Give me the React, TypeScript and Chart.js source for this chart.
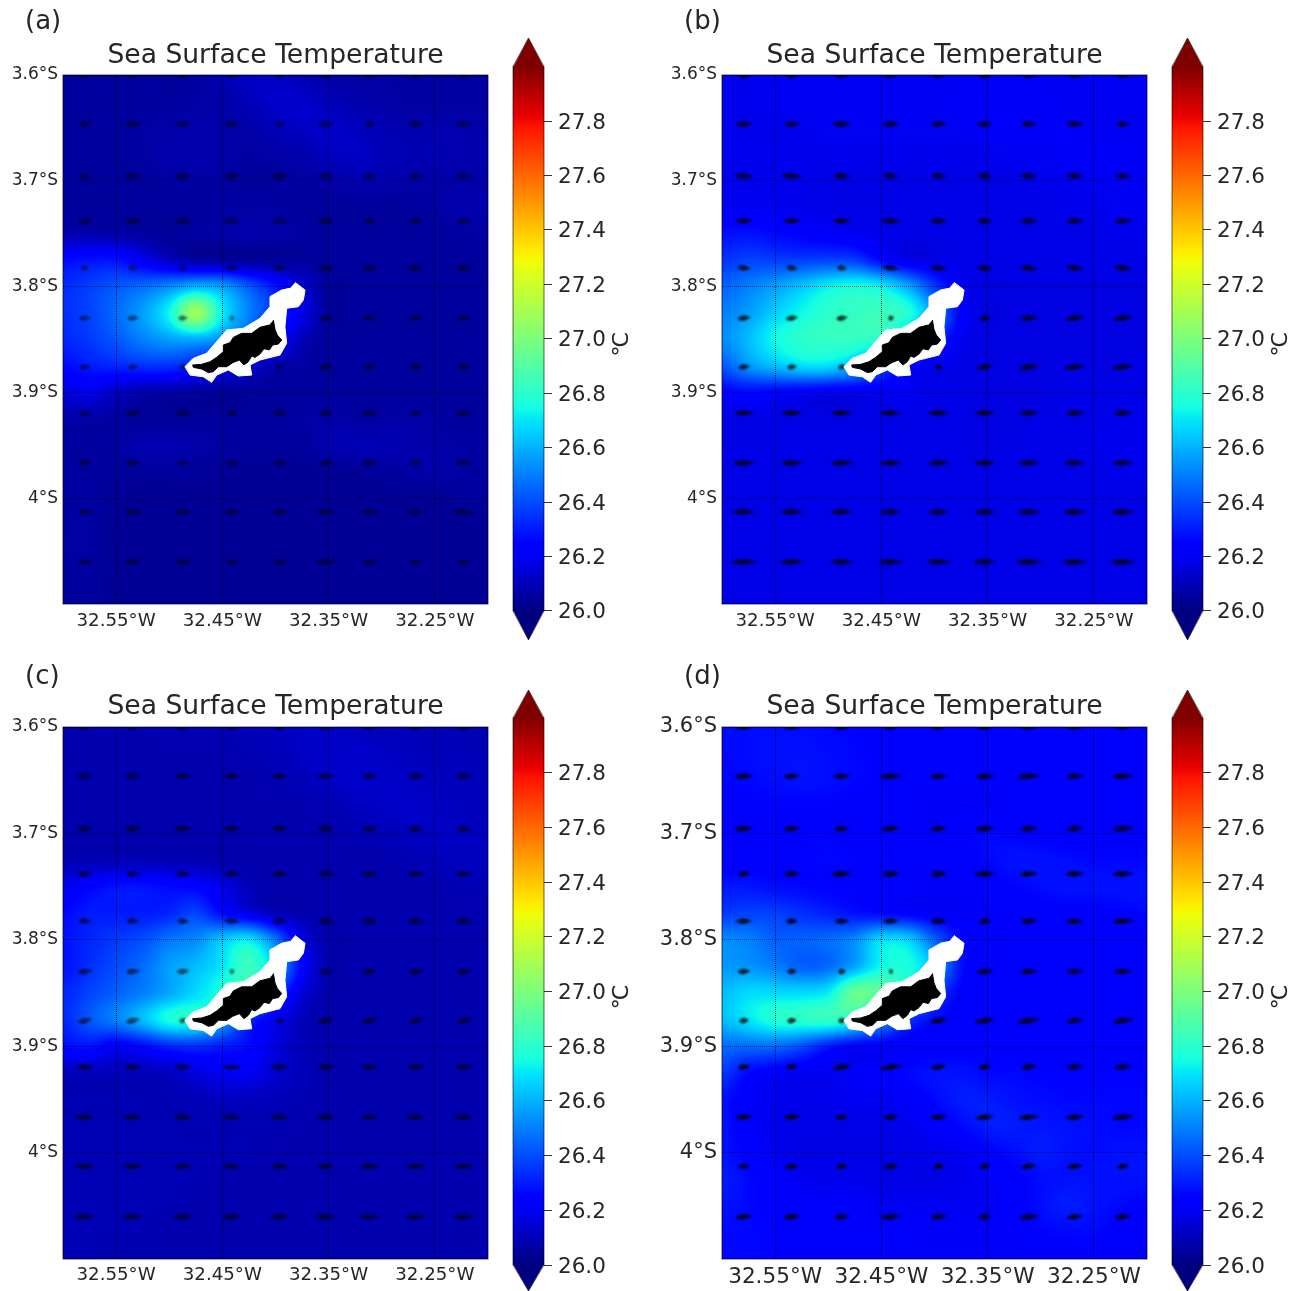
import React, { useEffect, useRef } from "react";
import { Chart, registerables } from "chart.js";

Chart.register(...registerables);

const FONT = "'DejaVu Sans'";
const INK = "#262626";

const LON_TICKS = [-32.55, -32.45, -32.35, -32.25];
const LAT_TICKS = [-3.6, -3.7, -3.8, -3.9, -4.0];
const CBAR_TICKS = [26.0, 26.2, 26.4, 26.6, 26.8, 27.0, 27.2, 27.4, 27.6, 27.8];
const PANEL_TITLES = ["(a)", "(b)", "(c)", "(d)"];

// SST grid nodes
const LON_NODES = [-32.6, -32.575, -32.55, -32.525, -32.5, -32.475, -32.45, -32.425, -32.4, -32.375, -32.35, -32.325, -32.3, -32.275, -32.25, -32.225, -32.2];
const LAT_NODES = [-3.6, -3.625, -3.65, -3.675, -3.7, -3.725, -3.75, -3.775, -3.8, -3.825, -3.85, -3.875, -3.9, -3.925, -3.95, -3.975, -4.0, -4.025, -4.05, -4.075, -4.1];

// hundredths of a degree above 26 C
const sstA = [
  [5, 5, 5, 5, 5, 6, 9, 12, 12, 9, 7, 6, 6, 6, 6, 6, 6],
  [5, 5, 5, 5, 5, 6, 7, 10, 13, 13, 10, 8, 7, 6, 6, 6, 6],
  [5, 5, 5, 6, 7, 8, 7, 7, 10, 12, 13, 11, 9, 8, 8, 8, 7],
  [5, 5, 5, 6, 8, 8, 7, 6, 7, 8, 11, 12, 10, 9, 9, 8, 8],
  [5, 5, 5, 5, 6, 6, 6, 5, 5, 6, 7, 8, 8, 7, 7, 7, 7],
  [5, 5, 5, 5, 5, 5, 6, 6, 6, 5, 5, 5, 5, 5, 6, 8, 8],
  [8, 8, 7, 6, 5, 6, 7, 8, 7, 6, 5, 5, 5, 5, 5, 6, 6],
  [26, 28, 28, 20, 12, 7, 6, 5, 5, 5, 5, 5, 5, 5, 5, 5, 5],
  [33, 37, 42, 46, 52, 60, 56, 42, 28, 14, 5, 5, 5, 5, 5, 5, 5],
  [34, 38, 46, 56, 74, 108, 72, 50, 35, 18, 5, 5, 5, 5, 5, 5, 5],
  [32, 36, 42, 50, 56, 58, 52, 40, 26, 10, 5, 5, 5, 5, 5, 5, 5],
  [26, 30, 32, 34, 34, 30, 22, 14, 8, 6, 5, 5, 5, 5, 5, 5, 5],
  [16, 18, 12, 8, 7, 6, 5, 5, 5, 5, 5, 5, 5, 5, 5, 5, 5],
  [7, 7, 6, 5, 5, 5, 5, 5, 5, 6, 7, 6, 6, 7, 6, 5, 5],
  [6, 5, 6, 8, 8, 7, 6, 5, 5, 5, 8, 9, 9, 8, 7, 6, 6],
  [6, 5, 5, 5, 5, 5, 4, 4, 4, 4, 4, 4, 5, 6, 7, 6, 5],
  [6, 6, 4, 4, 4, 4, 4, 4, 4, 4, 4, 4, 4, 4, 4, 5, 5],
  [6, 6, 4, 4, 4, 4, 4, 4, 4, 4, 4, 4, 4, 4, 4, 4, 4],
  [6, 6, 4, 4, 4, 4, 4, 4, 4, 4, 4, 4, 4, 4, 4, 4, 4],
  [5, 5, 4, 4, 4, 4, 4, 4, 4, 4, 4, 4, 4, 4, 4, 4, 4],
  [5, 5, 4, 4, 4, 4, 4, 4, 4, 4, 4, 4, 4, 4, 4, 4, 4],
];
const sstB = [
  [19, 19, 19, 20, 20, 20, 20, 20, 20, 20, 20, 20, 20, 20, 20, 20, 20],
  [19, 19, 20, 20, 20, 20, 20, 20, 20, 21, 21, 21, 21, 20, 20, 20, 20],
  [19, 19, 19, 19, 20, 20, 20, 20, 20, 20, 21, 21, 21, 21, 20, 20, 20],
  [19, 19, 19, 19, 19, 19, 19, 19, 19, 19, 19, 20, 20, 21, 21, 21, 20],
  [19, 19, 19, 19, 18, 18, 18, 18, 18, 18, 18, 18, 19, 19, 20, 20, 20],
  [20, 20, 20, 19, 18, 18, 18, 18, 18, 18, 18, 18, 18, 19, 19, 20, 20],
  [27, 28, 26, 24, 22, 20, 19, 18, 18, 18, 18, 18, 18, 18, 18, 19, 19],
  [35, 38, 37, 37, 38, 37, 26, 19, 18, 18, 18, 18, 18, 18, 18, 18, 18],
  [44, 50, 56, 64, 72, 76, 72, 58, 36, 20, 17, 17, 17, 17, 17, 17, 17],
  [50, 56, 66, 74, 80, 82, 84, 78, 54, 24, 17, 17, 17, 17, 17, 17, 17],
  [52, 62, 74, 80, 82, 82, 78, 58, 36, 20, 17, 17, 17, 17, 17, 17, 17],
  [42, 54, 62, 68, 68, 60, 42, 24, 19, 18, 17, 17, 17, 17, 17, 17, 18],
  [24, 26, 24, 22, 20, 20, 20, 20, 18, 18, 17, 17, 17, 18, 18, 18, 18],
  [18, 18, 18, 18, 18, 18, 18, 18, 18, 18, 17, 17, 18, 18, 18, 19, 19],
  [18, 18, 18, 18, 18, 18, 18, 18, 18, 18, 17, 18, 18, 18, 19, 19, 19],
  [18, 18, 18, 18, 18, 18, 18, 18, 18, 18, 18, 18, 18, 18, 18, 19, 19],
  [18, 18, 18, 18, 18, 18, 18, 18, 18, 18, 18, 18, 18, 18, 18, 18, 18],
  [18, 18, 18, 18, 18, 18, 18, 18, 18, 18, 18, 18, 18, 18, 18, 18, 18],
  [18, 18, 18, 18, 18, 18, 18, 18, 18, 18, 18, 18, 18, 18, 18, 18, 18],
  [18, 18, 18, 18, 18, 18, 18, 18, 18, 18, 18, 18, 18, 18, 18, 18, 18],
  [18, 18, 18, 18, 18, 18, 18, 18, 18, 18, 18, 18, 18, 18, 18, 18, 18],
];
const sstC = [
  [8, 8, 8, 8, 9, 9, 9, 10, 11, 12, 12, 11, 10, 10, 9, 9, 9],
  [8, 8, 8, 8, 8, 8, 8, 9, 10, 12, 13, 13, 12, 11, 10, 10, 9],
  [8, 8, 8, 8, 8, 8, 8, 8, 9, 10, 12, 13, 13, 12, 11, 10, 10],
  [8, 8, 8, 8, 8, 8, 8, 8, 8, 8, 9, 11, 12, 13, 12, 11, 10],
  [8, 8, 8, 8, 8, 8, 8, 8, 8, 8, 8, 9, 10, 11, 12, 12, 11],
  [9, 9, 9, 9, 9, 9, 8, 8, 8, 8, 8, 8, 8, 9, 10, 11, 11],
  [18, 24, 28, 28, 26, 24, 18, 10, 8, 8, 8, 8, 8, 8, 8, 9, 9],
  [26, 30, 30, 30, 32, 38, 26, 18, 10, 8, 8, 8, 8, 8, 8, 8, 8],
  [28, 32, 36, 40, 48, 52, 64, 70, 48, 18, 8, 8, 8, 8, 8, 8, 8],
  [28, 34, 40, 46, 56, 62, 70, 84, 62, 24, 8, 8, 8, 8, 8, 8, 8],
  [32, 38, 44, 50, 58, 68, 76, 74, 40, 16, 8, 8, 8, 8, 8, 8, 8],
  [32, 42, 50, 62, 76, 76, 60, 34, 20, 10, 8, 8, 8, 8, 8, 8, 8],
  [26, 28, 22, 26, 32, 34, 30, 26, 16, 10, 8, 8, 8, 8, 8, 8, 8],
  [10, 10, 10, 10, 12, 16, 20, 20, 14, 10, 8, 8, 8, 8, 8, 8, 8],
  [9, 9, 9, 9, 9, 10, 11, 11, 10, 9, 8, 8, 8, 8, 8, 8, 8],
  [9, 9, 9, 9, 9, 9, 9, 9, 9, 8, 8, 8, 8, 8, 8, 8, 8],
  [9, 9, 9, 9, 9, 9, 9, 9, 8, 8, 8, 8, 8, 8, 8, 8, 8],
  [9, 9, 9, 9, 9, 9, 8, 8, 8, 8, 8, 8, 8, 8, 8, 8, 8],
  [9, 9, 9, 9, 9, 8, 8, 8, 8, 8, 8, 8, 8, 8, 8, 8, 8],
  [9, 9, 9, 9, 8, 8, 8, 8, 8, 8, 8, 8, 8, 8, 8, 8, 8],
  [9, 9, 8, 8, 8, 8, 8, 8, 8, 8, 8, 8, 8, 8, 8, 8, 8],
];
const sstD = [
  [26, 27, 27, 27, 26, 25, 24, 23, 22, 22, 22, 22, 22, 22, 22, 22, 22],
  [26, 27, 28, 28, 27, 26, 24, 23, 22, 22, 22, 23, 23, 23, 23, 23, 23],
  [25, 26, 27, 28, 27, 26, 24, 22, 22, 22, 22, 22, 23, 23, 23, 23, 24],
  [23, 24, 25, 25, 25, 24, 23, 22, 21, 21, 21, 22, 22, 22, 22, 23, 24],
  [22, 23, 24, 25, 25, 24, 23, 22, 22, 24, 26, 25, 24, 23, 23, 24, 24],
  [22, 23, 24, 25, 26, 25, 24, 22, 22, 23, 26, 28, 28, 27, 26, 26, 26],
  [29, 29, 27, 26, 25, 25, 24, 22, 21, 21, 23, 25, 27, 28, 28, 28, 28],
  [36, 38, 37, 34, 31, 28, 26, 24, 22, 21, 21, 22, 23, 24, 24, 25, 26],
  [52, 50, 44, 44, 46, 52, 68, 66, 44, 26, 22, 22, 23, 23, 24, 24, 24],
  [55, 54, 50, 44, 46, 58, 74, 76, 60, 28, 22, 22, 22, 22, 23, 23, 23],
  [62, 68, 68, 68, 72, 95, 90, 70, 40, 24, 22, 22, 22, 22, 22, 22, 22],
  [62, 70, 78, 80, 82, 76, 56, 36, 26, 23, 22, 22, 22, 22, 22, 22, 22],
  [46, 46, 46, 40, 30, 24, 23, 22, 23, 24, 24, 24, 24, 24, 24, 24, 24],
  [36, 26, 22, 20, 20, 21, 23, 26, 28, 28, 26, 26, 25, 25, 25, 25, 25],
  [28, 22, 20, 19, 19, 20, 20, 22, 26, 30, 30, 28, 27, 26, 26, 26, 26],
  [28, 22, 19, 18, 18, 18, 18, 19, 22, 26, 30, 30, 29, 28, 27, 26, 26],
  [28, 24, 20, 18, 18, 18, 18, 18, 19, 20, 24, 27, 30, 28, 27, 28, 28],
  [30, 26, 22, 20, 19, 19, 18, 18, 18, 19, 21, 24, 27, 28, 28, 28, 28],
  [28, 26, 23, 22, 22, 22, 20, 20, 20, 20, 20, 23, 27, 30, 28, 26, 25],
  [26, 26, 25, 24, 23, 22, 22, 22, 21, 21, 21, 22, 25, 26, 26, 24, 24],
  [26, 26, 25, 24, 22, 22, 22, 21, 21, 21, 21, 21, 22, 23, 24, 24, 24],
];

// Island and its white land mask
const MASK_LON = [-32.3816, -32.3722, -32.3738, -32.3785, -32.3895, -32.3911, -32.3895, -32.3958, -32.4146, -32.424, -32.4224, -32.435, -32.4444, -32.4553, -32.4601, -32.468, -32.4805, -32.4852, -32.4774, -32.4648, -32.4459, -32.4303, -32.4146, -32.4052, -32.4052, -32.3942, -32.3864];
const MASK_LAT = [-3.796, -3.8032, -3.8127, -3.819, -3.8205, -3.8379, -3.8536, -3.8647, -3.8694, -3.8741, -3.8836, -3.8845, -3.8788, -3.8836, -3.8905, -3.8852, -3.8836, -3.8757, -3.8678, -3.863, -3.841, -3.8394, -3.83, -3.819, -3.8095, -3.8032, -3.8016];
const ISLE_LON = [-32.402, -32.4005, -32.3983, -32.3942, -32.3973, -32.4027, -32.4058, -32.4108, -32.4146, -32.4193, -32.4224, -32.4256, -32.4297, -32.434, -32.4403, -32.4459, -32.4538, -32.4585, -32.4632, -32.4695, -32.4773, -32.478, -32.4695, -32.4616, -32.4553, -32.4491, -32.4491, -32.4428, -32.4397, -32.4319, -32.4224, -32.4146, -32.4058];
const ISLE_LAT = [-3.8316, -3.8404, -3.8458, -3.8505, -3.8543, -3.8552, -3.8599, -3.8587, -3.8637, -3.8669, -3.8656, -3.871, -3.8741, -3.8694, -3.8719, -3.8757, -3.8757, -3.8804, -3.8813, -3.8779, -3.8763, -3.8741, -3.8735, -3.871, -3.8668, -3.8615, -3.8552, -3.853, -3.848, -3.8442, -3.8442, -3.8385, -3.8363];

// Quiver positions
const Q_LON = [-32.5793, -32.5342, -32.4871, -32.4409, -32.3958, -32.3525, -32.3111, -32.2678, -32.2226];
const Q_LAT = [-3.6, -3.6463, -3.6955, -3.738, -3.7825, -3.8298, -3.876, -3.9195, -3.9667, -4.013, -4.0603];

// Quiver lengths (per point) and headings (per row, degrees)
const qLenA = [
  [12, 12, 12, 14, 12, 12, 12, 12, 12],
  [12, 17, 17, 15, 10, 17, 12, 17, 18],
  [12, 17, 18, 17, 18, 17, 15, 15, 17],
  [15, 17, 18, 18, 17, 17, 13, 15, 17],
  [8, 10, 8, 15, 15, 17, 17, 17, 17],
  [12, 12, 10, 5, 8, 15, 15, 15, 15],
  [12, 10, 8, 8, 8, 15, 15, 15, 15],
  [12, 17, 18, 12, 15, 17, 18, 13, 18],
  [13, 17, 12, 12, 13, 13, 17, 12, 17],
  [15, 17, 18, 17, 17, 20, 18, 15, 23],
  [15, 17, 17, 13, 15, 23, 15, 13, 12],
];
const qLenB = [
  [14, 14, 14, 14, 14, 14, 14, 14, 14],
  [18, 16, 20, 18, 16, 16, 16, 18, 14],
  [20, 22, 18, 16, 16, 16, 18, 18, 16],
  [18, 18, 18, 20, 18, 16, 18, 18, 18],
  [14, 12, 10, 18, 18, 16, 18, 18, 18],
  [14, 13, 12, 6, 8, 12, 18, 20, 20],
  [12, 10, 8, 8, 8, 18, 22, 22, 22],
  [20, 22, 22, 22, 22, 20, 20, 20, 20],
  [24, 24, 24, 24, 22, 22, 22, 22, 22],
  [24, 24, 24, 22, 22, 22, 24, 24, 24],
  [28, 26, 24, 26, 26, 24, 28, 26, 26],
];
const qLenC = [
  [14, 14, 14, 14, 14, 14, 14, 16, 16],
  [16, 15, 17, 17, 17, 18, 17, 18, 17],
  [16, 18, 18, 18, 17, 17, 17, 18, 17],
  [16, 16, 17, 18, 17, 17, 17, 17, 17],
  [14, 14, 12, 16, 16, 17, 17, 17, 17],
  [16, 15, 13, 5, 8, 14, 16, 17, 17],
  [16, 15, 8, 8, 8, 18, 18, 18, 18],
  [18, 18, 18, 20, 20, 18, 18, 18, 18],
  [20, 20, 20, 20, 20, 20, 18, 20, 20],
  [20, 20, 18, 18, 18, 18, 20, 20, 20],
  [22, 22, 22, 22, 22, 22, 22, 22, 22],
];
const qLenD = [
  [18, 18, 16, 16, 16, 18, 20, 18, 16],
  [20, 17, 17, 23, 18, 20, 25, 18, 23],
  [20, 17, 15, 20, 17, 20, 18, 17, 23],
  [13, 17, 22, 20, 18, 23, 20, 20, 22],
  [17, 13, 15, 17, 18, 13, 18, 18, 23],
  [13, 10, 8, 4, 8, 17, 18, 17, 18],
  [10, 10, 8, 8, 20, 22, 25, 18, 23],
  [13, 12, 20, 23, 17, 13, 17, 17, 18],
  [17, 17, 13, 15, 17, 20, 22, 20, 23],
  [12, 15, 12, 15, 12, 12, 17, 17, 13],
  [18, 18, 17, 22, 17, 13, 20, 17, 17],
];
const qAngA = [0, 0, 0, 0, 5, -3, -2, 0, 0, 0, 0];
const qAngB = [0, 0, 4, 0, 8, -8, -8, 0, 0, 0, 0];
const qAngC = [0, 0, 0, 0, 4, -6, -12, 0, 0, 0, 0];
const qAngD = [0, -3, -3, -3, 0, -3, -8, -8, -5, -8, -5];

const JET_R: number[][] = [[0, 0], [0.35, 0], [0.66, 1], [0.89, 1], [1, 0.5]];
const JET_G: number[][] = [[0, 0], [0.125, 0], [0.375, 1], [0.64, 1], [0.91, 0], [1, 0]];
const JET_B: number[][] = [[0, 0.5], [0.11, 1], [0.34, 1], [0.65, 0], [1, 0]];
const JET_BREAKS = [0, 0.11, 0.125, 0.34, 0.35, 0.375, 0.64, 0.65, 0.66, 0.89, 0.91, 1];

function seg(table: number[][], f: number) {
  for (let i = 1; i < table.length; i++) {
    if (f <= table[i][0]) {
      const [a, av] = table[i - 1];
      const [b, bv] = table[i];
      return av + ((f - a) / (b - a)) * (bv - av);
    }
  }
  return table[table.length - 1][1];
}
function jet(f: number): [number, number, number] {
  const t = Math.min(1, Math.max(0, f));
  return [seg(JET_R, t) * 255, seg(JET_G, t) * 255, seg(JET_B, t) * 255];
}
const css = (c: number[]) => `rgb(${Math.round(c[0])},${Math.round(c[1])},${Math.round(c[2])})`;

function cr(p0: number, p1: number, p2: number, p3: number, t: number) {
  return 0.5 * (2 * p1 + (p2 - p0) * t + (2 * p0 - 5 * p1 + 4 * p2 - p3) * t * t + (3 * p1 - p0 - 3 * p2 + p3) * t * t * t);
}

const fieldPlugin = {
  id: "sstField",
  beforeDraw(chart: any) {
    const ds = chart.data.datasets.find((d: any) => d.label === "SST");
    if (!ds) return;
    const { left, top, right, bottom } = chart.chartArea;
    const xs = chart.scales.x, ys = chart.scales.y;
    const x0 = Math.floor(left), y0 = Math.floor(top);
    const w = Math.ceil(right - left), h = Math.ceil(bottom - top);
    const img = chart.ctx.createImageData(w, h);
    const nx = LON_NODES.length, ny = LAT_NODES.length;
    const at = (j: number, i: number) => ds.data[Math.max(0, Math.min(ny - 1, j)) * nx + Math.max(0, Math.min(nx - 1, i))].v;
    const dLon = LON_NODES[1] - LON_NODES[0], dLat = LAT_NODES[1] - LAT_NODES[0];
    for (let py = 0; py < h; py++) {
      const fy = (ys.getValueForPixel(y0 + py + 0.5) - LAT_NODES[0]) / dLat;
      const j = Math.floor(fy), ty = fy - j;
      for (let px = 0; px < w; px++) {
        const fx = (xs.getValueForPixel(x0 + px + 0.5) - LON_NODES[0]) / dLon;
        const i = Math.floor(fx), tx = fx - i;
        const r = [-1, 0, 1, 2].map((o) => cr(at(j + o, i - 1), at(j + o, i), at(j + o, i + 1), at(j + o, i + 2), tx));
        const v = cr(r[0], r[1], r[2], r[3], ty);
        const c = jet((v - 26) / 2);
        const k = (py * w + px) * 4;
        img.data[k] = c[0];
        img.data[k + 1] = c[1];
        img.data[k + 2] = c[2];
        img.data[k + 3] = 255;
      }
    }
    chart.ctx.putImageData(img, x0, y0);
  },
  afterDatasetsDraw(chart: any) {
    const { left, top, right, bottom } = chart.chartArea;
    const ctx = chart.ctx;
    ctx.save();
    ctx.strokeStyle = "rgba(0,0,0,0.7)";
    ctx.lineWidth = 1;
    ctx.strokeRect(left, top, right - left, bottom - top);
    ctx.restore();
  },
  afterDraw(chart: any, _a: any, opts: any) {
    const ctx = chart.ctx;
    ctx.save();
    ctx.fillStyle = INK;
    ctx.font = `26px ${FONT}`;
    ctx.textBaseline = "middle";
    ctx.textAlign = "left";
    ctx.fillText(opts.tag, 25, opts.tagY);
    ctx.restore();
  },
};

const arrowCache: Record<string, HTMLCanvasElement> = {};
function arrowImage(len: number, alpha: number) {
  const key = `${len}/${alpha}`;
  if (arrowCache[key]) return arrowCache[key];
  const c = document.createElement("canvas");
  c.width = len + 8;
  c.height = 13;
  const g = c.getContext("2d")!;
  g.filter = "blur(1px)";
  g.fillStyle = `rgba(0,0,0,${alpha})`;
  g.beginPath();
  g.moveTo(4, 6.5);
  g.quadraticCurveTo(4 + len * 0.25, 3.2, 4 + len * 0.5, 3.8);
  g.quadraticCurveTo(4 + len * 0.8, 5, 4 + len, 6.5);
  g.quadraticCurveTo(4 + len * 0.7, 8.2, 4 + len * 0.45, 9.2);
  g.quadraticCurveTo(4 + len * 0.2, 9, 4, 6.5);
  g.fill();
  arrowCache[key] = c;
  return c;
}

const cbarPlugin = {
  id: "cbarEnds",
  afterDatasetsDraw(chart: any) {
    const { left, right, top, bottom } = chart.chartArea;
    const ys = chart.scales.y;
    const hi = ys.getPixelForValue(28), lo = ys.getPixelForValue(26);
    const mid = (left + right) / 2;
    const ctx = chart.ctx;
    ctx.save();
    ctx.fillStyle = css(jet(1));
    ctx.beginPath();
    ctx.moveTo(left, hi + 1);
    ctx.lineTo(mid, top);
    ctx.lineTo(right, hi + 1);
    ctx.closePath();
    ctx.fill();
    ctx.fillStyle = css(jet(0));
    ctx.beginPath();
    ctx.moveTo(left, lo - 1);
    ctx.lineTo(mid, bottom);
    ctx.lineTo(right, lo - 1);
    ctx.closePath();
    ctx.fill();
    ctx.strokeStyle = "rgba(0,0,0,0.6)";
    ctx.lineWidth = 1;
    ctx.beginPath();
    ctx.moveTo(left, lo);
    ctx.lineTo(mid, bottom);
    ctx.lineTo(right, lo);
    ctx.lineTo(right, hi);
    ctx.lineTo(mid, top);
    ctx.lineTo(left, hi);
    ctx.closePath();
    ctx.stroke();
    ctx.restore();
  },
  afterDraw(chart: any, _a: any, opts: any) {
    const ctx = chart.ctx;
    ctx.save();
    ctx.translate(opts.unitX, chart.scales.y.getPixelForValue(26.98));
    ctx.rotate(-Math.PI / 2);
    ctx.fillStyle = INK;
    ctx.font = `22px ${FONT}`;
    ctx.textAlign = "center";
    ctx.textBaseline = "middle";
    ctx.fillText("\u2103", 0, 0);
    ctx.restore();
  },
};

function makeMap(canvas: HTMLCanvasElement, p: any) {
  const pts = (lons: number[], lats: number[]) => lons.map((x, i) => ({ x, y: lats[i] }));
  const field: any[] = [];
  LAT_NODES.forEach((lat, j) => LON_NODES.forEach((lon, i) => field.push({ x: lon, y: lat, v: 26 + p.sst[j][i] / 100 })));
  const qPts: any[] = [], qStyle: any[] = [], qRot: number[] = [];
  Q_LAT.forEach((lat, j) =>
    Q_LON.forEach((lon, i) => {
      qPts.push({ x: lon, y: lat });
      qStyle.push(arrowImage(p.qLen[j][i], p.qAlpha));
      qRot.push(p.qAng[j]);
    })
  );
  return new Chart(canvas, {
    type: "scatter",
    data: {
      datasets: [
        { label: "Island", data: pts(ISLE_LON, ISLE_LAT), showLine: true, fill: "shape", backgroundColor: "#000", borderColor: "#000", borderWidth: 1, pointRadius: 0, tension: 0 },
        { label: "Land mask", data: pts(MASK_LON, MASK_LAT), showLine: true, fill: "shape", backgroundColor: "#fff", borderColor: "#fff", borderWidth: 1, pointRadius: 0, tension: 0 },
        { label: "Current", data: qPts, pointStyle: qStyle, pointRotation: qRot, pointRadius: 4, showLine: false },
        { label: "SST", data: field, pointRadius: 0, showLine: false },
      ],
    },
    options: {
      animation: false,
      responsive: false,
      layout: { autoPadding: false, padding: { right: 2, left: 0, top: 0, bottom: 0 } },
      events: [],
      plugins: {
        legend: { display: false },
        tooltip: { enabled: false },
        title: {
          display: true,
          text: "Sea Surface Temperature",
          fullSize: false,
          color: INK,
          font: { family: FONT, size: 26.6, weight: "normal" },
          padding: { top: p.titleTop, bottom: p.titleBottom },
        },
        sstField: { tag: p.tag, tagY: p.tagY },
      },
      scales: {
        x: {
          type: "linear",
          min: -32.6,
          max: -32.2,
          afterBuildTicks: (s: any) => { s.ticks = LON_TICKS.map((value) => ({ value })); },
          afterFit: (s: any) => { s.height = p.xAxisH; },
          ticks: {
            autoSkip: false,
            maxRotation: 0,
            color: INK,
            padding: p.xPad,
            font: { family: FONT, size: p.xFont },
            callback: (v: any) => `${(-v).toFixed(2)}\u00b0W`,
          },
          grid: { color: "rgba(0,0,0,0.75)", lineWidth: 1, drawTicks: false },
          border: { display: false, dash: [1, 1] },
        },
        y: {
          type: "linear",
          min: -4.1,
          max: -3.6,
          afterBuildTicks: (s: any) => { s.ticks = LAT_TICKS.map((value) => ({ value })); },
          afterFit: (s: any) => { s.width = 63; },
          ticks: {
            autoSkip: false,
            color: INK,
            padding: 5,
            font: { family: FONT, size: p.yFont },
            callback: (v: any) => `${Number((-v).toFixed(1))}\u00b0S`,
          },
          grid: { color: "rgba(0,0,0,0.5)", lineWidth: 1, drawTicks: false },
          border: { display: false, dash: [1, 1] },
        },
      },
    },
    plugins: [fieldPlugin],
  } as any);
}

function makeBar(canvas: HTMLCanvasElement, p: any) {
  return new Chart(canvas, {
    type: "bar",
    data: {
      labels: ["SST"],
      datasets: [
        {
          data: [[26, 28]],
          barPercentage: 1,
          categoryPercentage: 1,
          backgroundColor: (ctx: any) => {
            const ys = ctx.chart.scales.y;
            if (!ys || !ctx.chart.chartArea) return "#00f";
            const g = ctx.chart.ctx.createLinearGradient(0, ys.getPixelForValue(26), 0, ys.getPixelForValue(28));
            JET_BREAKS.forEach((f) => g.addColorStop(f, css(jet(f))));
            return g;
          },
        },
      ],
    },
    options: {
      animation: false,
      responsive: false,
      events: [],
      layout: { autoPadding: false, padding: { left: 13, top: p.top, bottom: p.bottom, right: 0 } },
      plugins: { legend: { display: false }, tooltip: { enabled: false }, cbarEnds: { unitX: 122 } },
      scales: {
        x: { display: false },
        y: {
          position: "right",
          min: p.min,
          max: p.max,
          afterBuildTicks: (s: any) => { s.ticks = CBAR_TICKS.map((value) => ({ value })); },
          afterFit: (s: any) => { s.width = 96; s.paddingTop = 0; s.paddingBottom = 0; },
          ticks: { autoSkip: false, color: INK, padding: 6, labelOffset: 2, font: { family: FONT, size: 21.5 }, callback: (v: any) => Number(v).toFixed(1) },
          grid: { drawOnChartArea: false, drawTicks: true, tickLength: 8, tickColor: "#333", tickWidth: 1 },
          border: { display: false },
        },
      },
    },
    plugins: [cbarPlugin],
  } as any);
}

const ROW1 = { top: 0, h: 650, titleTop: 40, titleBottom: 3.1, tagY: 22, xAxisH: 46, xPad: 6, barTop: 38, barBottom: 10, barMin: 25.893, barMax: 28.105 };
const ROW2 = { top: 650, h: 641, titleTop: 41.4, titleBottom: 3.7, tagY: 27, xAxisH: 32, xPad: 5, barTop: 40, barBottom: 0, barMin: 25.905, barMax: 28.102 };
const PANELS = [
  { left: 0, row: ROW1, sst: sstA, qLen: qLenA, qAng: qAngA, qAlpha: 0.55, xFont: 18.2, yFont: 17 },
  { left: 659, row: ROW1, sst: sstB, qLen: qLenB, qAng: qAngB, qAlpha: 0.8, xFont: 18.2, yFont: 17 },
  { left: 0, row: ROW2, sst: sstC, qLen: qLenC, qAng: qAngC, qAlpha: 0.65, xFont: 18.2, yFont: 17 },
  { left: 659, row: ROW2, sst: sstD, qLen: qLenD, qAng: qAngD, qAlpha: 0.85, xFont: 21.6, yFont: 21 },
];

function Panel({ idx }: { idx: number }) {
  const P = PANELS[idx];
  const mapRef = useRef<HTMLCanvasElement>(null);
  const barRef = useRef<HTMLCanvasElement>(null);
  useEffect(() => {
    const m = makeMap(mapRef.current!, {
      sst: P.sst, qLen: P.qLen, qAng: P.qAng, qAlpha: P.qAlpha, xFont: P.xFont, yFont: P.yFont, xPad: P.row.xPad,
      titleTop: P.row.titleTop, titleBottom: P.row.titleBottom, tag: PANEL_TITLES[idx], tagY: P.row.tagY, xAxisH: P.row.xAxisH,
    });
    const b = makeBar(barRef.current!, { top: P.row.barTop, bottom: P.row.barBottom, min: P.row.barMin, max: P.row.barMax });
    return () => { m.destroy(); b.destroy(); };
  }, []);
  const blur = "blur(0.55px)";
  return (
    <>
      <canvas ref={mapRef} width={490} height={P.row.h} style={{ position: "absolute", left: P.left, top: P.row.top, width: 490, height: P.row.h, filter: blur }} />
      <canvas ref={barRef} width={140} height={P.row.h} style={{ position: "absolute", left: P.left + 500, top: P.row.top, width: 140, height: P.row.h, filter: blur }} />
    </>
  );
}

export default function App() {
  return (
    <div style={{ position: "absolute", left: 0, top: 0, width: 1308, height: 1291, overflow: "hidden", background: "#fff" }}>
      {PANELS.map((_, i) => <Panel key={i} idx={i} />)}
    </div>
  );
}
